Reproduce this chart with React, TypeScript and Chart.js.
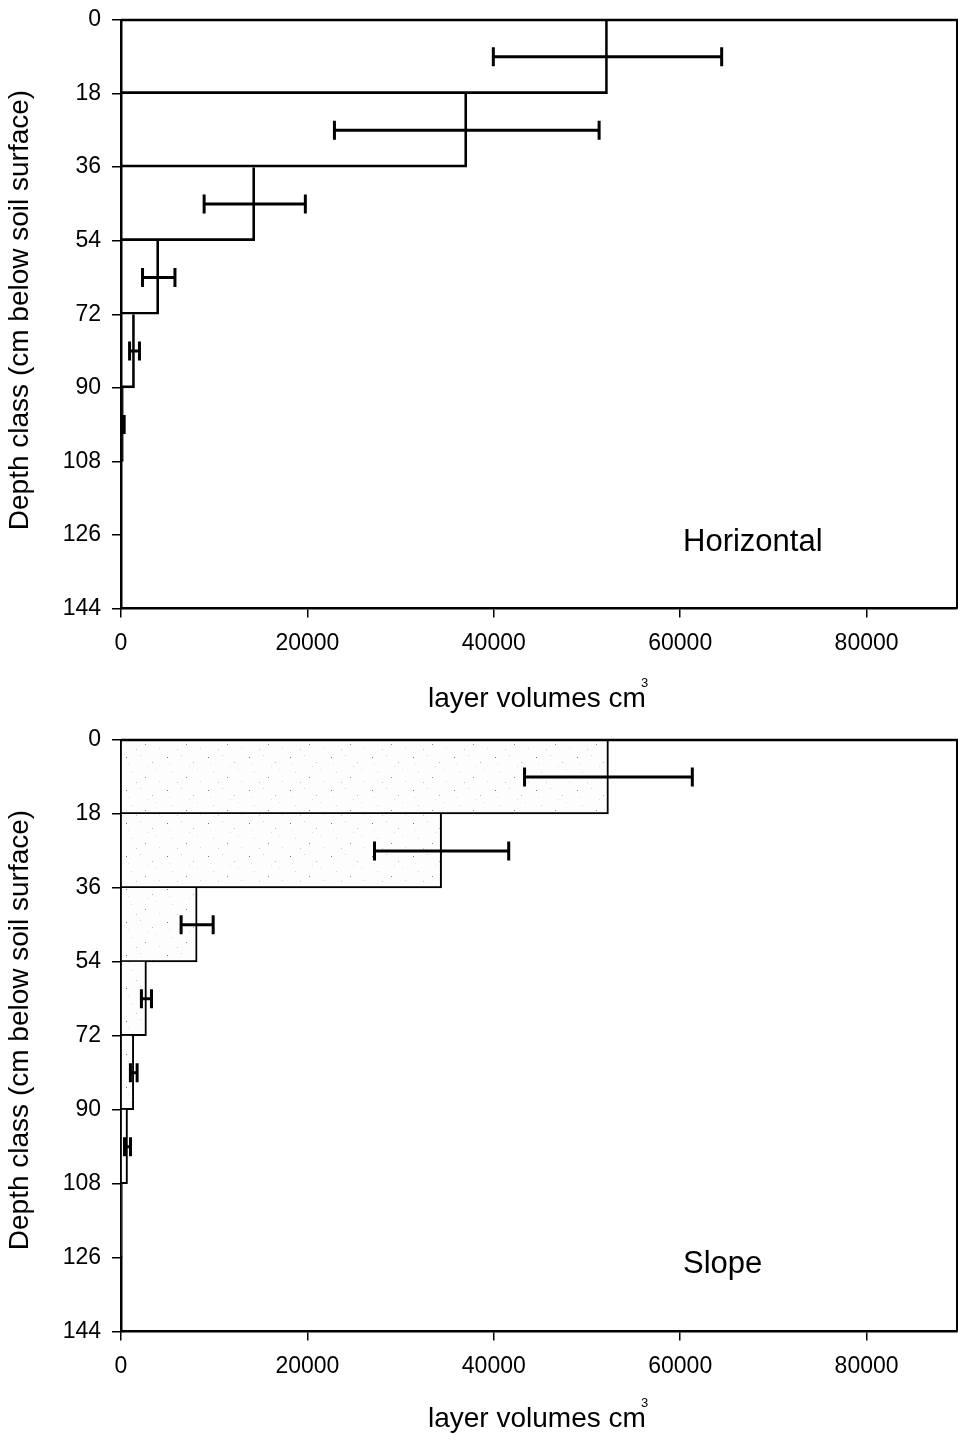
import React, { useEffect, useRef } from "react";
import { Chart, registerables } from "chart.js";

Chart.register(...registerables);

// ---- data ----
const depthTicks = [0, 18, 36, 54, 72, 90, 108, 126, 144];
const depthMids = [9, 27, 45, 63, 81, 99, 117, 135];
const volumeTicks = [0, 20000, 40000, 60000, 80000];

const horizontalVolumes = [52200, 37100, 14350, 4050, 1450, 250, 50, 0];
const horizontalErrors = [12250, 14200, 5430, 1740, 530, 90, 0, 0];

const slopeVolumes = [52300, 34400, 8170, 2730, 1370, 700, 120, 0];
const slopeErrors = [9000, 7200, 1720, 540, 360, 320, 0, 0];

const xMax = 89700;
const FONT = "'Liberation Sans', Arial, Helvetica, sans-serif";

function makeSpeckle(): CanvasPattern | string {
  const c = document.createElement("canvas");
  c.width = 41;
  c.height = 33;
  const g = c.getContext("2d");
  if (!g) return "#fafafa";
  g.fillStyle = "#fdfdfd";
  g.fillRect(0, 0, 41, 33);
  const dots = [
    [3, 4, "#7a7a7a"], [17, 2, "#cfcfcf"], [29, 9, "#b5b5b5"], [8, 19, "#d5d5d5"],
    [22, 24, "#8c8c8c"], [36, 28, "#d8d8d8"], [13, 29, "#c4c4c4"], [33, 16, "#e0e0e0"],
    [25, 13, "#dadada"], [5, 11, "#e2e2e2"],
  ] as [number, number, string][];
  dots.forEach(([x, y, col]) => {
    g.fillStyle = col;
    g.fillRect(x, y, 1, 1);
  });
  const p = g.createPattern(c, "repeat");
  return p || "#fafafa";
}

function buildChart(
  canvas: HTMLCanvasElement,
  volumes: number[],
  errors: number[],
  fill: any,
  label: string,
  labelBaseline: number
) {
  const overlay = {
    id: "overlay",
    afterDatasetsDraw(chart: any) {
      const ctx = chart.ctx as CanvasRenderingContext2D;
      const xs = chart.scales.x;
      const ys = chart.scales.y;
      const area = chart.chartArea;
      ctx.save();
      ctx.strokeStyle = "#000";
      ctx.lineWidth = 3;
      ctx.lineCap = "butt";
      volumes.forEach((v, i) => {
        const e = errors[i];
        if (!e) return;
        const y = ys.getPixelForValue(depthMids[i]);
        const x1 = xs.getPixelForValue(v - e);
        const x2 = xs.getPixelForValue(v + e);
        ctx.beginPath();
        ctx.moveTo(x1, y);
        ctx.lineTo(x2, y);
        ctx.moveTo(x1, y - 9.5);
        ctx.lineTo(x1, y + 9.5);
        ctx.moveTo(x2, y - 9.5);
        ctx.lineTo(x2, y + 9.5);
        ctx.stroke();
      });
      ctx.lineWidth = 2.5;
      ctx.beginPath();
      ctx.moveTo(area.left, area.top);
      ctx.lineTo(area.right + 1, area.top);
      ctx.stroke();
      ctx.lineWidth = 2;
      ctx.beginPath();
      ctx.moveTo(area.right, area.top);
      ctx.lineTo(area.right, area.bottom);
      ctx.stroke();
      ctx.restore();
    },
    afterDraw(chart: any) {
      const ctx = chart.ctx as CanvasRenderingContext2D;
      ctx.save();
      ctx.fillStyle = "#000";
      ctx.textBaseline = "alphabetic";
      ctx.font = `28px ${FONT}`;
      ctx.textAlign = "left";
      ctx.fillText("layer volumes cm", 428, 707);
      ctx.font = `13px ${FONT}`;
      ctx.fillText("3", 641, 687);
      ctx.save();
      ctx.translate(28, 310);
      ctx.rotate(-Math.PI / 2);
      ctx.font = `28px ${FONT}`;
      ctx.textAlign = "center";
      ctx.fillText("Depth class (cm below soil surface)", 0, 0);
      ctx.restore();
      ctx.font = `31px ${FONT}`;
      ctx.textAlign = "left";
      ctx.fillText(label, 683, labelBaseline);
      ctx.restore();
    },
  };

  const tickFont = { family: FONT, size: 23 };

  return new Chart(canvas, {
    type: "bar",
    data: {
      datasets: [
        {
          data: depthMids.map((y, i) => ({ x: volumes[i], y })),
          backgroundColor: fill,
          borderColor: "#000",
          borderWidth: { top: 0, right: 2, bottom: 2, left: 0 },
          borderSkipped: "start",
          barPercentage: 1,
          categoryPercentage: 1,
        } as any,
      ],
    },
    options: {
      indexAxis: "y",
      animation: false,
      responsive: false,
      maintainAspectRatio: false,
      layout: { padding: { top: 20, right: 1, left: 0, bottom: 0 } },
      plugins: { legend: { display: false }, tooltip: { enabled: false } },
      scales: {
        x: {
          type: "linear",
          min: 0,
          max: xMax,
          offset: false,
          afterBuildTicks: (s: any) => {
            s.ticks = volumeTicks.map((v) => ({ value: v }));
          },
          afterFit: (s: any) => {
            s.height = 111.5;
            s.paddingLeft = 0;
            s.paddingRight = 0;
          },
          ticks: {
            font: tickFont,
            color: "#000",
            padding: 12,
            maxRotation: 0,
            autoSkip: false,
            callback: (v: any) => String(v),
          },
          grid: {
            drawOnChartArea: false,
            drawTicks: true,
            offset: false,
            tickLength: 9,
            color: "#000",
            lineWidth: 1.5,
          },
          border: { color: "#000", width: 2.5 },
        },
        y: {
          type: "linear",
          reverse: true,
          min: 0,
          max: 144,
          offset: false,
          afterBuildTicks: (s: any) => {
            s.ticks = depthTicks.map((v) => ({ value: v }));
          },
          afterFit: (s: any) => {
            s.width = 121;
            s.paddingTop = 0;
            s.paddingBottom = 0;
          },
          ticks: {
            font: tickFont,
            color: "#000",
            padding: 11,
            autoSkip: false,
            callback: (v: any) => String(v),
          },
          grid: {
            drawOnChartArea: false,
            drawTicks: true,
            offset: false,
            tickLength: 9,
            color: "#000",
            lineWidth: 1.5,
          },
          border: { color: "#000", width: 2.5 },
        },
      },
    } as any,
    plugins: [overlay],
  });
}

export default function App() {
  const topRef = useRef<HTMLCanvasElement>(null);
  const botRef = useRef<HTMLCanvasElement>(null);

  useEffect(() => {
    if (!topRef.current || !botRef.current) return;
    const c1 = buildChart(topRef.current, horizontalVolumes, horizontalErrors, "rgba(255,255,255,0)", "Horizontal", 551);
    const c2 = buildChart(botRef.current, slopeVolumes, slopeErrors, makeSpeckle(), "Slope", 553);
    return () => {
      c1.destroy();
      c2.destroy();
    };
  }, []);

  return (
    <div style={{ position: "absolute", left: 0, top: 0, width: 958, height: 1443, background: "#fff" }}>
      <canvas ref={topRef} width={958} height={720} style={{ display: "block", width: 958, height: 720 }} />
      <canvas ref={botRef} width={958} height={723} style={{ display: "block", width: 958, height: 723 }} />
    </div>
  );
}
